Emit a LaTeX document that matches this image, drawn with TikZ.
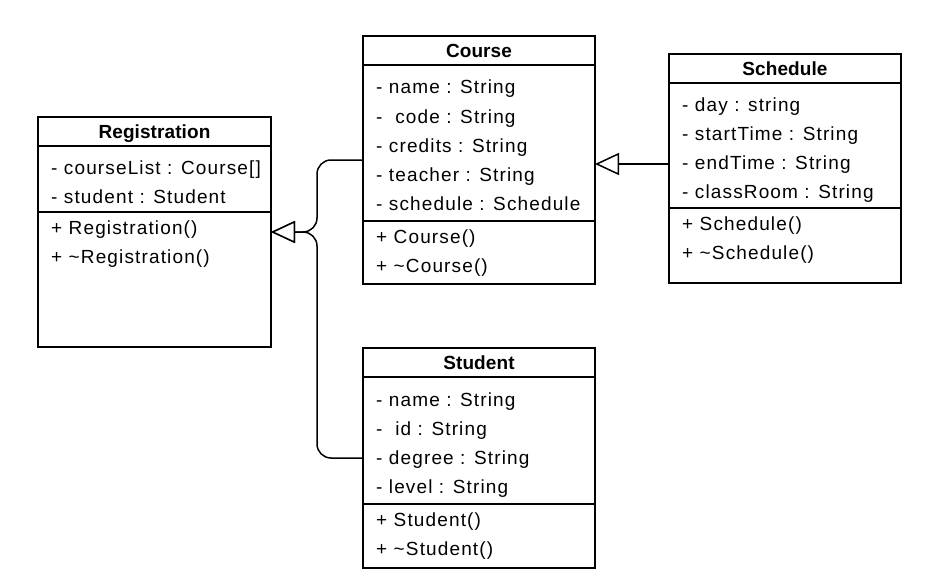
\documentclass[tikz,border=0pt]{standalone}
\usepackage{fontspec}
\setmainfont{Liberation Sans}[LetterSpace=6, BoldFeatures={LetterSpace=0.5}]
\usetikzlibrary{positioning}
\usetikzlibrary{arrows.meta}

\tikzset{
 cls/.style={minimum width=232pt, anchor=north west, inner sep=0pt, outer sep=0pt},
 sect/.style={draw, line width=1.5pt, minimum width=232pt, inner sep=0pt, outer sep=0pt},
 head/.style={font=\bfseries\fontsize{19}{23}\selectfont, text height=15pt, text depth=1.5pt},
 row/.style={anchor=base west, inner sep=0pt, font=\fontsize{19}{23}\selectfont},
 inh/.style={line width=1.5pt, -{Triangle[open, length=24pt, width=22pt, fill=white]}},
}

\begin{document}
\begin{tikzpicture}[x=1pt, y=-1pt]
 \useasboundingbox (0,0) rectangle (951,578);

 % Registration
 \node[cls, minimum width=233pt, minimum height=230pt] (reg) at (38,117) {};
 \node[sect, head, minimum width=233pt, minimum height=29pt, below=0pt of reg.north] (reghead) {Registration};
 \node[sect, minimum width=233pt, minimum height=66pt, below=0pt of reghead] (regattr) {};
 \node[sect, minimum width=233pt, minimum height=135pt, below=0pt of regattr] (regmeth) {};
 \foreach \t [count=\i] in {- courseList : Course[], - student : Student}
  \node[row] (regA\i) at ([xshift=13pt, yshift=-28pt-(\i-1)*29pt] regattr.north west) {\t};
 \foreach \t [count=\i] in {+ Registration(), + \textasciitilde Registration()}
  \node[row] (regM\i) at ([xshift=13pt, yshift=-22.5pt-(\i-1)*29pt] regmeth.north west) {\t};

 % Course
 \node[cls, minimum height=248pt] (course) at (363,36) {};
 \node[sect, head, minimum height=29pt, below=0pt of course.north] (coursehead) {Course};
 \node[sect, minimum height=156pt, below=0pt of coursehead] (courseattr) {};
 \node[sect, minimum height=63pt, below=0pt of courseattr] (coursemeth) {};
 \foreach \t [count=\i] in {- name : String, -\ \ code : String, - credits : String, - teacher : String, - schedule : Schedule}
  \node[row] (courseA\i) at ([xshift=13pt, yshift=-29pt-(\i-1)*29pt] courseattr.north west) {\t};
 \foreach \t [count=\i] in {+ Course(), + \textasciitilde Course()}
  \node[row] (courseM\i) at ([xshift=13pt, yshift=-22.5pt-(\i-1)*29pt] coursemeth.north west) {\t};

 % Schedule
 \node[cls, minimum height=229pt] (sched) at (669,54) {};
 \node[sect, head, minimum height=29pt, below=0pt of sched.north] (schedhead) {Schedule};
 \node[sect, minimum height=125pt, below=0pt of schedhead] (schedattr) {};
 \node[sect, minimum height=75pt, below=0pt of schedattr] (schedmeth) {};
 \foreach \t [count=\i] in {- day : string, - startTime : String, - endTime : String, - classRoom : String}
  \node[row] (schedA\i) at ([xshift=13pt, yshift=-28pt-(\i-1)*29pt] schedattr.north west) {\t};
 \foreach \t [count=\i] in {+ Schedule(), + \textasciitilde Schedule()}
  \node[row] (schedM\i) at ([xshift=13pt, yshift=-22pt-(\i-1)*29pt] schedmeth.north west) {\t};

 % Student
 \node[cls, minimum height=220pt] (stud) at (363,348) {};
 \node[sect, head, minimum height=29pt, below=0pt of stud.north] (studhead) {Student};
 \node[sect, minimum height=127pt, below=0pt of studhead] (studattr) {};
 \node[sect, minimum height=64pt, below=0pt of studattr] (studmeth) {};
 \foreach \t [count=\i] in {- name : String, -\ \ id : String, - degree : String, - level : String}
  \node[row] (studA\i) at ([xshift=13pt, yshift=-29pt-(\i-1)*29pt] studattr.north west) {\t};
 \foreach \t [count=\i] in {+ Student(), + \textasciitilde Student()}
  \node[row] (studM\i) at ([xshift=13pt, yshift=-22pt-(\i-1)*29pt] studmeth.north west) {\t};

 % inheritance
 \draw[inh, rounded corners=14pt] (course.west) -- ++(-46,0) |- (reg.east);
 \draw[inh, rounded corners=14pt] (stud.west) -- ++(-46,0) |- (reg.east);
 \coordinate (schedin) at ([yshift=4.5pt]sched.west);
 \draw[inh] (schedin) -- (schedin -| course.east);
\end{tikzpicture}
\end{document}
